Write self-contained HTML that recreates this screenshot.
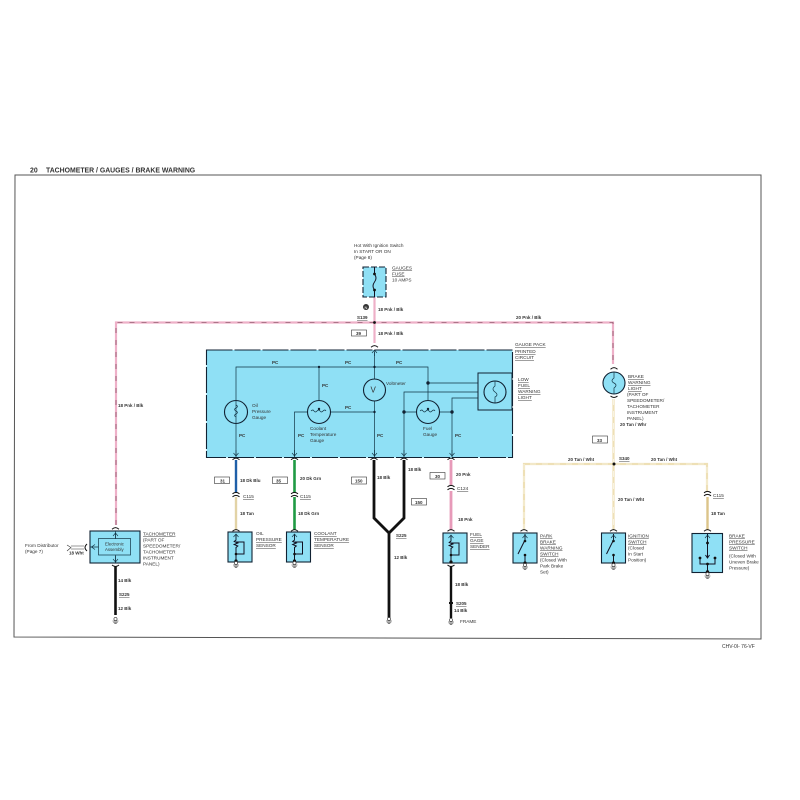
<!DOCTYPE html>
<html><head><meta charset="utf-8"><style>
html,body{margin:0;padding:0;background:#fff}
svg{display:block;filter:blur(.3px)}
text{font-family:"Liberation Sans",sans-serif;font-size:4.7px;fill:#333}
.b{font-weight:bold;font-size:4.5px}
.u{text-decoration:underline}
.box{fill:#8fe0f5;stroke:#123;stroke-width:1.1}
.l{fill:none;stroke:#134;stroke-width:.7}
.g{fill:none;stroke:#112;stroke-width:1}
.c{fill:none;stroke:#111;stroke-width:1}
.tag{fill:#fff;stroke:#333;stroke-width:.6}
.pk{fill:none;stroke:#eeb0c8;stroke-width:2.2}
.pd{fill:none;stroke:#6b3a4a;stroke-width:.6;stroke-dasharray:5 7}
.tn{fill:none;stroke:#eee0b6;stroke-width:2.2}
.td{fill:none;stroke:#fff;stroke-width:.6;stroke-dasharray:6 6}
</style></head><body>
<svg width="800" height="800" viewBox="0 0 800 800" xmlns="http://www.w3.org/2000/svg">
<defs>
<g id="gnd"><circle cx="0" cy="-1" r="1.6" fill="#fff" stroke="#333" stroke-width=".6"/><path d="M-3 1H3M-2.200 2.200H2.200M-1.200 3.400H1.200" stroke="#333" stroke-width=".6"/></g>
<g id="conn"><path d="M-3.500 -1.200Q0 -4 3.500 -1.200M-3.500 1.800Q0 -1 3.500 1.800" fill="none" stroke="#111" stroke-width="1"/></g>
<g id="cap"><path d="M-3.500 1.200Q0 -2 3.500 1.200" fill="none" stroke="#111" stroke-width="1"/></g>
<g id="arr"><path d="M-2.500 -3L0 0L2.500 -3M0 0V-6" fill="none" stroke="#134" stroke-width=".6"/></g>
<g id="arrU"><path d="M-2.500 3L0 0L2.500 3M0 0V6" fill="none" stroke="#134" stroke-width=".6"/></g>
<g id="sens"><rect class="box" x="-8" y="0" width="24" height="30"/><path d="M0 3V8l-1.800 1.500 3.600 1.500-3.600 1.500 3.600 1.500-1.800 1.500V30M0 10H8V22H0" class="g" stroke-width=".8"/><circle cx="0" cy="22" r="1.300" fill="#111"/><circle cx="0" cy="29" r="1.600" fill="#111"/><use href="#arrU" y="2"/></g>
<g id="sw"><rect class="box" x="-12" y="0" width="24" height="30"/><path d="M0 1V7M0 7L-7 21M0 22V30" class="g" stroke-width=".8"/><circle cx="0" cy="8" r="1.300" fill="#111"/><circle cx="0" cy="22" r="1.300" fill="#111"/><circle cx="0" cy="30" r="1.600" fill="#111"/><use href="#arrU" y="2"/><use href="#gnd" y="33"/></g>
</defs>
<rect width="800" height="800" fill="#fff"/>
<!-- header and frame -->
<text x="30" y="172.500" style="font-size:6.900px;font-weight:bold">20</text>
<text x="46" y="172.500" style="font-size:6.900px;font-weight:bold">TACHOMETER / GAUGES / BRAKE WARNING</text>
<path d="M15 175L761 175L761 639L14 637Z" fill="none" stroke="#555" stroke-width="1"/>
<text x="722" y="648" style="font-size:5px">CHV-0I- 76-VF</text>

<!-- top pink bus -->
<path class="pk" d="M116 525V322.500H613V364"/><path class="pd" d="M116 525V322.500H613V364"/>
<path class="pk" d="M374.500 297V343"/>
<circle cx="374.500" cy="322.500" r="1.400" fill="#111"/>

<!-- fuse -->
<rect x="363" y="267" width="23" height="30" fill="#8fe0f5" stroke="#123" stroke-width="1.100" stroke-dasharray="6 2"/>
<path d="M374.500 267V274M374.500 290V297M374.500 274q3 4 0 8t0 8" class="g" stroke-width=".7"/>
<circle cx="374.500" cy="274" r="1.400" fill="#111"/><circle cx="374.500" cy="290" r="1.400" fill="#111"/>
<text x="354" y="247">Hot With Ignition Switch</text>
<text x="354" y="253">In START OR ON</text>
<text x="354" y="259">(Page 8)</text>
<text x="392" y="269.500" class="u">GAUGES</text><text x="392" y="275.500" class="u">FUSE</text><text x="392" y="281.500">10 AMPS</text>
<circle cx="366" cy="307" r="3" fill="#333"/><text x="364.500" y="309" style="font-size:4px;fill:#fff">N</text>
<text x="378" y="311" class="b">18 Pnk / Blk</text>
<text x="357" y="319" class="b u">S139</text>
<rect class="tag" x="351.500" y="330" width="15" height="6"/><text x="356" y="335" class="b">39</text>
<text x="378" y="335" class="b">18 Pnk / Blk</text>
<text x="516" y="319" class="b">20 Pnk / Blk</text>
<text x="118" y="407" class="b">18 Pnk / Blk</text>

<!-- main gauge box -->
<rect x="206.500" y="350" width="306" height="107.500" fill="#8fe0f5" stroke="#123" stroke-width="1.100" stroke-dasharray="26 2"/>
<use href="#cap" x="374.500" y="346"/><use href="#arrU" x="374.500" y="350"/>
<path class="l" d="M236 457V367H428V400M319 367V400M374.500 352V379M374.500 401V457M331 412H374.500M307 412H294.500V457M404 457V392H478M452 457V398H478M404 412H416M440 412H452M428 383H478M236 400V367M236 424V457"/>
<rect x="478" y="373" width="34" height="37" fill="#8fe0f5" stroke="#123" stroke-width="1"/>
<g fill="none" stroke="#123" stroke-width="1.100"><circle cx="236" cy="412" r="11.500"/><circle cx="319" cy="412" r="11.500"/><circle cx="374.500" cy="390" r="11"/><circle cx="428" cy="412" r="11.500"/><circle cx="495" cy="392" r="11"/></g>
<path class="l" d="M236 405q3 1.500 0 3t0 3 0 3 0 3M311 411q2-2 3 0t3 0 3 0 3 0 3 0M420 411q2-2 3 0t3 0 3 0 3 0 3 0M495 381V386q-4 3 0 6t0 5V403"/>
<g fill="#123"><circle cx="319" cy="367" r="1.200"/><circle cx="374.500" cy="367" r="1.200"/><circle cx="428" cy="383" r="1.700"/><circle cx="374.500" cy="412" r="1.200"/><circle cx="404" cy="412" r="1.700"/><circle cx="452" cy="412" r="1.700"/><circle cx="319" cy="409" r="1.200"/><circle cx="428" cy="409" r="1.200"/></g>
<text x="272" y="364" class="b">PC</text><text x="345" y="364" class="b">PC</text><text x="396" y="364" class="b">PC</text>
<text x="322" y="387" class="b">PC</text><text x="345" y="409" class="b">PC</text>
<text x="239" y="437" class="b">PC</text><text x="298" y="437" class="b">PC</text><text x="377" y="437" class="b">PC</text><text x="455" y="437" class="b">PC</text>
<text x="370.500" y="392.500" style="font-size:8px">V</text>
<text x="386" y="385">Voltmeter</text>
<text x="252" y="407">Oil</text><text x="252" y="413">Pressure</text><text x="252" y="419">Gauge</text>
<text x="310" y="430">Coolant</text><text x="310" y="436">Temperature</text><text x="310" y="442">Gauge</text>
<text x="423" y="430">Fuel</text><text x="423" y="436">Gauge</text>
<use href="#arr" x="236" y="456"/><use href="#arr" x="294.500" y="456"/><use href="#arr" x="374.500" y="456"/><use href="#arr" x="404" y="456"/><use href="#arr" x="452" y="456"/>
<text x="515" y="346" class="u">GAUGE PACK</text><text x="515" y="353" class="u">PRINTED</text><text x="515" y="359" class="u">CIRCUIT</text>
<text x="518" y="381" class="u">LOW</text><text x="518" y="387" class="u">FUEL</text><text x="518" y="393" class="u">WARNING</text><text x="518" y="399" class="u">LIGHT</text>

<!-- brake light -->
<circle cx="614" cy="383" r="11" fill="#8fe0f5" stroke="#123" stroke-width="1.100"/>
<path class="l" d="M614 372V378q-4 3 0 5t0 5V394"/>
<use href="#cap" x="614" y="368"/><path d="M610.500 396Q614 399 617.500 396" class="c"/>
<path class="tn" d="M613.500 399V530M524 530V464H707V492"/><path class="td" d="M613.500 399V530M524 530V464H707V492"/>
<circle cx="614" cy="464" r="1.500" fill="#111"/>
<text x="628" y="378" class="u">BRAKE</text><text x="628" y="384" class="u">WARNING</text><text x="628" y="390" class="u">LIGHT</text>
<text x="627" y="396">(PART OF</text><text x="627" y="402">SPEEDOMETER/</text><text x="627" y="408">TACHOMETER</text><text x="627" y="414">INSTRUMENT</text><text x="627" y="420">PANEL)</text>
<text x="620" y="426" class="b">20 Tan / Whr</text>
<rect class="tag" x="592.500" y="436" width="15" height="7"/><text x="597" y="442" class="b">33</text>
<text x="568" y="461" class="b">20 Tan / Wht</text><text x="619" y="460" class="b u">S340</text><text x="651" y="461" class="b">20 Tan / Wht</text>
<text x="618" y="501" class="b">20 Tan / Wht</text>

<!-- switches -->
<use href="#cap" x="524" y="530"/><use href="#sw" x="525" y="533"/>
<use href="#cap" x="613.500" y="530"/><use href="#sw" x="613.500" y="533"/>
<text x="540" y="537.500" class="u">PARK</text><text x="540" y="543.500" class="u">BRAKE</text><text x="540" y="549.500" class="u">WARNING</text><text x="540" y="555.500" class="u">SWITCH</text>
<text x="540" y="561.500">(Closed With</text><text x="540" y="567.500">Park Brake</text><text x="540" y="573.500">Set)</text>
<text x="628" y="537.500" class="u">IGNITION</text><text x="628" y="543.500" class="u">SWITCH</text><text x="628" y="549.500">(Closed</text><text x="628" y="555.500">In Start</text><text x="628" y="561.500">Position)</text>

<path d="M707.500 497V530" stroke="#dcc48a" stroke-width="2.400"/>
<use href="#conn" x="707.500" y="494"/><text x="713" y="497" class="u">C115</text><text x="711" y="515" class="b">18 Tan</text>
<use href="#cap" x="707.500" y="530"/>
<rect class="box" x="692" y="533.500" width="30.500" height="39"/>
<path class="g" d="M707.500 534V557M700 558V564H715V558M707.500 564V573" stroke-width=".8"/>
<use href="#arrU" x="707.500" y="535"/><path d="M705.500 555L707.500 558 709.500 555" class="g" stroke-width=".7"/>
<g fill="#111"><circle cx="707.500" cy="543" r="1.400"/><circle cx="700" cy="558" r="1.400"/><circle cx="715" cy="558" r="1.400"/><circle cx="707.500" cy="564" r="1.400"/><circle cx="707.500" cy="572" r="1.700"/></g>
<use href="#gnd" x="707.500" y="575"/>
<text x="729" y="537.500" class="u">BRAKE</text><text x="729" y="543.500" class="u">PRESSURE</text><text x="729" y="549.500" class="u">SWITCH</text>
<text x="729" y="557.500">(Closed With</text><text x="729" y="563.500">Uneven Brake</text><text x="729" y="569.500">Pressure)</text>

<!-- oil -->
<path d="M236 460V493" stroke="#1f5fa8" stroke-width="2.400"/><path d="M236 497V530" stroke="#e2d3a6" stroke-width="2.400"/>
<use href="#cap" x="236" y="458.500"/><use href="#conn" x="236" y="495"/>
<rect class="tag" x="214.500" y="477" width="15" height="6.500"/><text x="220" y="482.500" class="b">31</text>
<text x="240" y="482" class="b">18 Dk Blu</text>
<text x="243" y="498" class="u">C115</text><text x="240" y="515" class="b">18 Tan</text>
<use href="#cap" x="236" y="530"/><use href="#sens" x="236" y="532"/>
<use href="#gnd" x="236" y="564"/>
<text x="256" y="535">OIL</text><text x="256" y="541" class="u">PRESSURE</text><text x="256" y="547" class="u">SENSOR</text>
<!-- coolant -->
<path d="M294.500 460V493M294.500 497V530" stroke="#1f9a44" stroke-width="2.600"/>
<use href="#cap" x="294.500" y="458.500"/><use href="#conn" x="294.500" y="495"/>
<rect class="tag" x="272.500" y="477" width="15" height="6.500"/><text x="276" y="482.500" class="b">35</text>
<text x="300" y="480" class="b">20 Dk Grn</text>
<text x="300" y="498" class="u">C115</text><text x="298" y="515" class="b">18 Dk Grn</text>
<use href="#cap" x="294.500" y="530"/><use href="#sens" x="294.500" y="532"/>
<use href="#gnd" x="294.500" y="564"/>
<text x="314" y="535" class="u">COOLANT</text><text x="314" y="541" class="u">TEMPERATURE</text><text x="314" y="547" class="u">SENSOR</text>
<!-- black Y -->
<path d="M374 460V518L389 533L404 518V460M389 533V618" fill="none" stroke="#111" stroke-width="2.800"/>
<use href="#cap" x="374" y="458.500"/><use href="#cap" x="404" y="458.500"/>
<rect class="tag" x="351.500" y="477" width="15" height="7"/><text x="355" y="482.500" class="b">150</text>
<text x="377" y="479" class="b">18 Blk</text><text x="408" y="471" class="b">18 Blk</text>
<rect class="tag" x="411.500" y="498.500" width="15" height="6.500"/><text x="415" y="504" class="b">150</text>
<text x="396" y="537" class="b u">S225</text><text x="394" y="559" class="b">12 Blk</text>
<use href="#gnd" x="389" y="620"/>
<!-- fuel -->
<path d="M451 460V485M451 491V530" stroke="#e79ab9" stroke-width="2.800"/>
<use href="#cap" x="451" y="458.500"/><use href="#conn" x="451" y="488"/>
<rect class="tag" x="430" y="472.500" width="15" height="6.500"/><text x="435" y="478" class="b">30</text>
<text x="456" y="476" class="b">20 Pnk</text>
<text x="457" y="490" class="u">C124</text><text x="458" y="521" class="b">18 Pnk</text>
<use href="#cap" x="451" y="530"/><use href="#sens" x="451" y="533"/>
<text x="470" y="536" class="u">FUEL</text><text x="470" y="542" class="u">GAGE</text><text x="470" y="548" class="u">SENDER</text>
<path d="M451 566V618" stroke="#111" stroke-width="2.400"/>
<path d="M447.500 565Q451 568 454.500 565" class="c"/>
<text x="455" y="586" class="b">18 Blk</text>
<path d="M449 603H453" stroke="#111" stroke-width="2"/>
<text x="456" y="605" class="b u">S205</text><text x="454" y="612" class="b">14 Blk</text>
<use href="#gnd" x="451" y="621"/><text x="460" y="623">FRAME</text>
<!-- tach -->
<use href="#cap" x="115.500" y="528"/>
<rect class="box" x="90" y="531" width="50" height="32"/>
<rect x="98.500" y="538.500" width="32" height="16.500" fill="#8fe0f5" stroke="#134" stroke-width=".7"/>
<path class="l" d="M115.500 531V538.500M115.500 555V563M90 547H98.500"/>
<use href="#arrU" x="115.500" y="533"/><use href="#arr" x="115.500" y="562"/><path class="l" d="M95 544.500L91.500 547 95 549.500"/>
<text x="105" y="545.500" style="font-size:4.300px">Electronic</text><text x="105" y="551" style="font-size:4.300px">Assembly</text>
<text x="143" y="535.500" class="u">TACHOMETER</text><text x="143" y="541.500">(PART OF</text><text x="143" y="547.500">SPEEDOMETER/</text><text x="143" y="553.500">TACHOMETER</text><text x="143" y="559.500">INSTRUMENT</text><text x="143" y="565.500">PANEL)</text>
<text x="25" y="547">From Distributor</text><text x="25" y="553">(Page 7)</text>
<path d="M67 545L71 547.500 67 551M71 546H84M71 549H84" fill="none" stroke="#333" stroke-width=".6"/>
<path d="M87 544Q83 547.500 87 551" class="c" stroke-width="1.300"/>
<text x="69" y="554.500" class="b">18 Wht</text>
<path d="M112 565Q115.500 568 119 565" class="c"/>
<path d="M115.500 566V615" stroke="#111" stroke-width="2.600"/>
<text x="118" y="582" class="b">14 Blk</text><text x="119" y="596" class="b u">S225</text><text x="118" y="610" class="b">12 Blk</text>
<use href="#gnd" x="115.500" y="620"/>
</svg>
</body></html>
